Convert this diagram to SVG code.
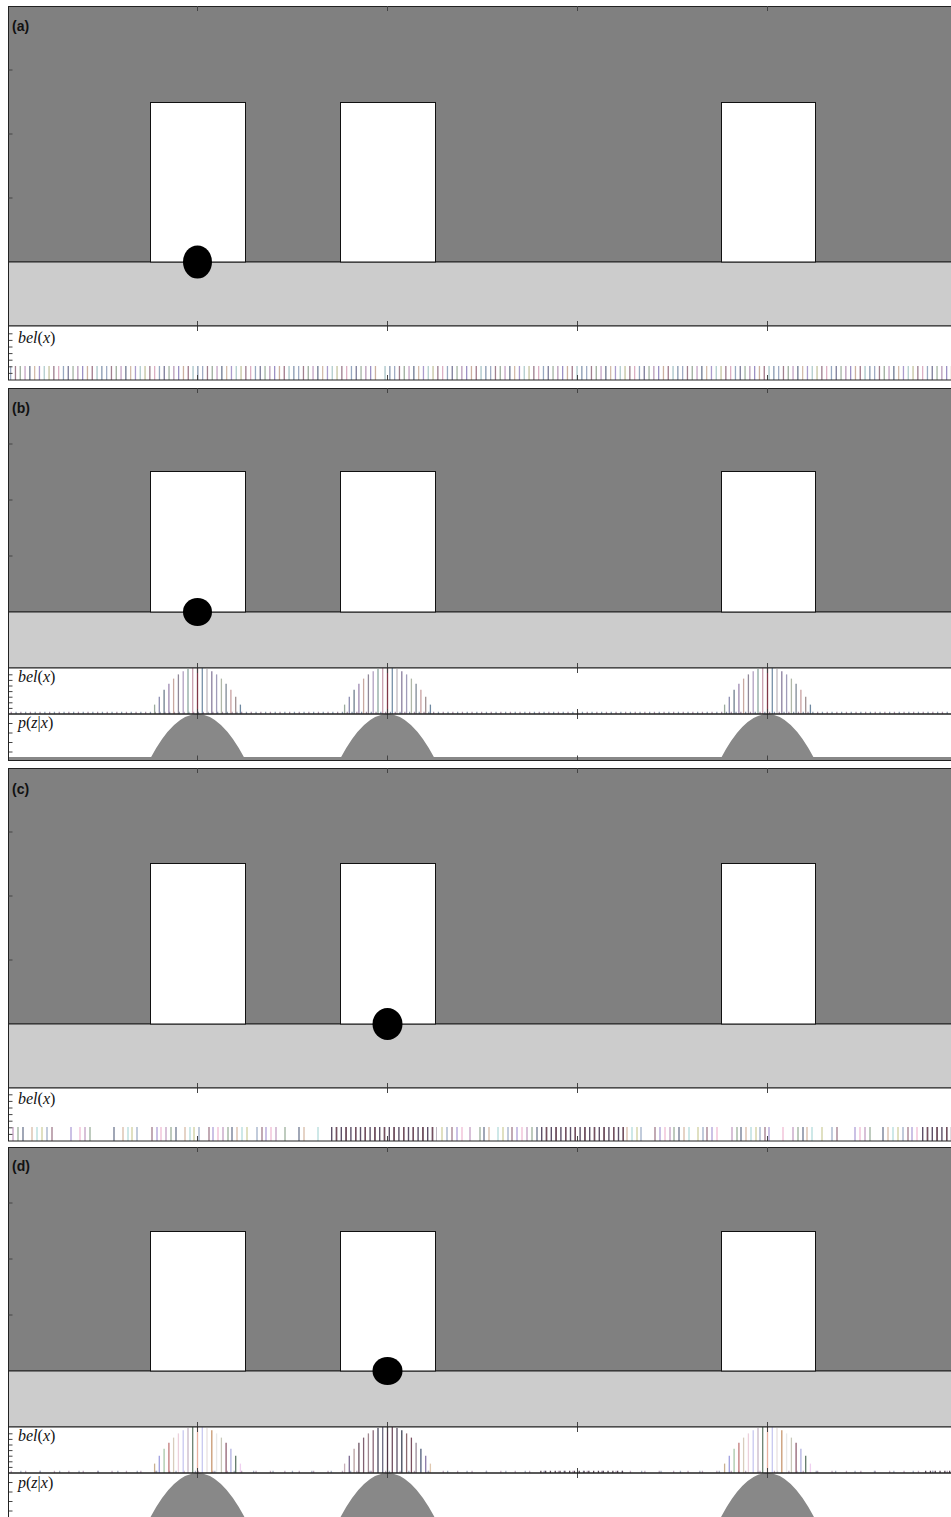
<svg xmlns="http://www.w3.org/2000/svg" width="951" height="1517" viewBox="0 0 951 1517">
<style>
.map{fill:#808080;stroke:#222;stroke-width:1}
.cor{fill:#cccccc;stroke:#222;stroke-width:1}
.door{fill:#fff;stroke:#111;stroke-width:1}
.sfill{fill:#fff}
.sline{fill:none;stroke:#222;stroke-width:1}
.robot{fill:#000}
.lbl{font-family:"Liberation Sans",Arial,sans-serif;font-weight:bold;font-size:14px;fill:#111}
.math{font-family:"Liberation Serif","Times New Roman",serif;font-size:16px;fill:#111}
.it{font-style:italic}
.tk{stroke:#444;stroke-width:1;fill:none}
.pz{fill:#888}
</style>
<defs>
<pattern id="pa" patternUnits="userSpaceOnUse" x="10" y="366" width="96" height="14">
<rect x="0" width="1.3" height="14" fill="#a0acc4"/>
<rect x="4.8" width="1.3" height="14" fill="#a0808e"/>
<rect x="9.6" width="1.3" height="14" fill="#9cac9c"/>
<rect x="14.4" width="1.3" height="14" fill="#c4a4c4"/>
<rect x="19.2" width="1.3" height="14" fill="#6e7890"/>
<rect x="24" width="1.3" height="14" fill="#d4bcac"/>
<rect x="28.8" width="1.3" height="14" fill="#aa9ccc"/>
<rect x="33.6" width="1.3" height="14" fill="#b0cccc"/>
<rect x="38.4" width="1.3" height="14" fill="#c4c4a0"/>
<rect x="43.2" width="1.3" height="14" fill="#9c7c8c"/>
<rect x="48" width="1.3" height="14" fill="#dcb0c4"/>
<rect x="52.8" width="1.3" height="14" fill="#98a8c0"/>
<rect x="57.6" width="1.3" height="14" fill="#7a7a98"/>
<rect x="62.4" width="1.3" height="14" fill="#a4b4a4"/>
<rect x="67.2" width="1.3" height="14" fill="#b89cb8"/>
<rect x="72" width="1.3" height="14" fill="#9c90c4"/>
<rect x="76.8" width="1.3" height="14" fill="#ccb0a0"/>
<rect x="81.6" width="1.3" height="14" fill="#a07888"/>
<rect x="86.4" width="1.3" height="14" fill="#a8c4c8"/>
<rect x="91.2" width="1.3" height="14" fill="#8898b0"/>
</pattern>
<g id="bumpM" stroke-width="1.3" fill="none">
<path stroke="#9aaa9c" d="M-42.9 0v-9.4"/>
<path stroke="#8c8cb0" d="M-38.2 0v-17.3"/>
<path stroke="#6e7e8e" d="M-33.4 0v-24.3"/>
<path stroke="#9c88b0" d="M-28.6 0v-30.3"/>
<path stroke="#c8a8a0" d="M-23.9 0v-35.4"/>
<path stroke="#908898" d="M-19.1 0v-39.6"/>
<path stroke="#b0a0c0" d="M-14.3 0v-42.8"/>
<path stroke="#8ca8a0" d="M-9.5 0v-45.1"/>
<path stroke="#c8a0b0" d="M-4.8 0v-46"/>
<path stroke="#803848" d="M0 0v-46"/>
<path stroke="#7890a8" d="M4.8 0v-46"/>
<path stroke="#c0b8c0" d="M9.5 0v-45.1"/>
<path stroke="#8a7e9e" d="M14.3 0v-42.8"/>
<path stroke="#a09cb8" d="M19.1 0v-39.6"/>
<path stroke="#b0b8a8" d="M23.9 0v-35.4"/>
<path stroke="#7e8894" d="M28.6 0v-30.3"/>
<path stroke="#c8a0a0" d="M33.4 0v-24.3"/>
<path stroke="#a09090" d="M38.2 0v-17.3"/>
<path stroke="#6e88a0" d="M42.9 0v-9.4"/>
</g>
<g id="bumpL" stroke-width="1.3" fill="none">
<path stroke="#c8b090" d="M-42.9 0v-9.4"/>
<path stroke="#a0a0e0" d="M-38.2 0v-17.3"/>
<path stroke="#a8c8a8" d="M-33.4 0v-24.3"/>
<path stroke="#c07878" d="M-28.6 0v-30.3"/>
<path stroke="#d8ccbc" d="M-23.9 0v-35.4"/>
<path stroke="#ecd0dc" d="M-19.1 0v-39.6"/>
<path stroke="#c8c8f0" d="M-14.3 0v-42.8"/>
<path stroke="#c8b8c8" d="M-9.5 0v-45.1"/>
<path stroke="#6a8070" d="M-4.8 0v-46"/>
<path stroke="#e8b0a0" d="M0 0v-46"/>
<path stroke="#c8c8f0" d="M4.8 0v-46"/>
<path stroke="#e8e0e0" d="M9.5 0v-45.1"/>
<path stroke="#c89870" d="M14.3 0v-42.8"/>
<path stroke="#e8e8e8" d="M19.1 0v-39.6"/>
<path stroke="#c8c8b8" d="M23.9 0v-35.4"/>
<path stroke="#906070" d="M28.6 0v-30.3"/>
<path stroke="#b0b0e0" d="M33.4 0v-24.3"/>
<path stroke="#607868" d="M38.2 0v-17.3"/>
<path stroke="#f0d0f0" d="M42.9 0v-9.4"/>
</g>
<g id="bumpD" stroke-width="1.3" fill="none">
<path stroke="#c8b0b8" d="M-42.9 0v-9.4"/>
<path stroke="#7a6890" d="M-38.2 0v-17.3"/>
<path stroke="#b8a0a0" d="M-33.4 0v-24.3"/>
<path stroke="#6a5060" d="M-28.6 0v-30.3"/>
<path stroke="#806070" d="M-23.9 0v-35.4"/>
<path stroke="#a08890" d="M-19.1 0v-39.6"/>
<path stroke="#8a6878" d="M-14.3 0v-42.8"/>
<path stroke="#4a4a5e" d="M-9.5 0v-45.1"/>
<path stroke="#6c6a80" d="M-4.8 0v-46"/>
<path stroke="#503848" d="M0 0v-46"/>
<path stroke="#705060" d="M4.8 0v-46"/>
<path stroke="#5e5468" d="M9.5 0v-45.1"/>
<path stroke="#3c4454" d="M14.3 0v-42.8"/>
<path stroke="#8a6a70" d="M19.1 0v-39.6"/>
<path stroke="#7a5060" d="M23.9 0v-35.4"/>
<path stroke="#9a8a98" d="M28.6 0v-30.3"/>
<path stroke="#4e5a78" d="M33.4 0v-24.3"/>
<path stroke="#8a7aa8" d="M38.2 0v-17.3"/>
<path stroke="#e0c8b0" d="M42.9 0v-9.4"/>
</g>
</defs>

<g id="panel-a">
<rect class="map" x="8.5" y="6.5" width="950" height="255.5"/>
<rect class="cor" x="8.5" y="262" width="950" height="64"/>
<rect class="door" x="150.5" y="102.5" width="95" height="159.5"/>
<rect class="door" x="340.5" y="102.5" width="95" height="159.5"/>
<rect class="door" x="721.5" y="102.5" width="94" height="159.5"/>
<ellipse class="robot" cx="197.5" cy="262" rx="14.5" ry="16.5"/>
<text class="lbl" x="12" y="31">(a)</text>
<rect class="sfill" x="8.5" y="326" width="950" height="54"/>
<rect x="10" y="366" width="941" height="14" fill="url(#pa)"/>
<rect x="378" y="365" width="6" height="15" fill="#fff"/>
<text class="math" x="18" y="343"><tspan class="it">bel</tspan>(<tspan class="it">x</tspan>)</text>
<path class="tk" d="M197.5 6v5M387.5 6v5M577.5 6v5M767.5 6v5M197.5 321v10M387.5 321v10M577.5 321v10M767.5 321v10M197.5 375v5M387.5 375v5M577.5 375v5M767.5 375v5M8.5 70h4M8.5 134h4M8.5 198h4M8.5 333.8h4M8.5 340.4h4M8.5 347h4M8.5 353.6h4M8.5 360.2h4M8.5 366.8h4M8.5 373.4h4"/>
<rect class="sline" x="8.5" y="326" width="950" height="54"/>
</g>

<g id="panel-b">
<rect class="map" x="8.5" y="388.5" width="950" height="223.5"/>
<rect class="cor" x="8.5" y="612" width="950" height="56"/>
<rect class="door" x="150.5" y="471.5" width="95" height="140.5"/>
<rect class="door" x="340.5" y="471.5" width="95" height="140.5"/>
<rect class="door" x="721.5" y="471.5" width="94" height="140.5"/>
<ellipse class="robot" cx="197.5" cy="612" rx="14.5" ry="14"/>
<text class="lbl" x="12" y="413">(b)</text>
<rect class="sfill" x="8.5" y="668" width="950" height="92.5"/>
<path d="M10.6 712.8H951" stroke="#a890a8" stroke-width="2.2" stroke-dasharray="1.3 8.3" fill="none"/>
<path d="M15.4 712.8H951" stroke="#8c9ab0" stroke-width="2.2" stroke-dasharray="1.3 8.3" fill="none"/>
<use href="#bumpM" x="197.5" y="714"/>
<use href="#bumpM" x="387.5" y="714"/>
<use href="#bumpM" x="767.5" y="714"/>
<rect class="pz" x="9" y="757" width="942" height="3.5"/>
<path class="pz" d="M150 759Q197.5 669 245 759ZM340 759Q387.5 669 435 759ZM720.5 759Q767.5 669 814.5 759Z"/>
<text class="math" x="18" y="682"><tspan class="it">bel</tspan>(<tspan class="it">x</tspan>)</text>
<text class="math" x="18" y="728"><tspan class="it">p</tspan>(<tspan class="it">z</tspan>|<tspan class="it">x</tspan>)</text>
<path class="tk" d="M197.5 388v5M387.5 388v5M577.5 388v5M767.5 388v5M197.5 663v10M387.5 663v10M577.5 663v10M767.5 663v10M197.5 709v10M387.5 709v10M577.5 709v10M767.5 709v10M197.5 755.5v5M387.5 755.5v5M577.5 755.5v5M767.5 755.5v5M8.5 444h4M8.5 500h4M8.5 556h4M8.5 674.8h4M8.5 680.4h4M8.5 686h4M8.5 691.6h4M8.5 697.2h4M8.5 702.8h4M8.5 708.4h4M8.5 723.5h4M8.5 733h4M8.5 742.5h4M8.5 752h4"/>
<rect class="sline" x="8.5" y="668" width="950" height="46"/>
<rect class="sline" x="8.5" y="714" width="950" height="46.5"/>
</g>

<g id="panel-c">
<rect class="map" x="8.5" y="768.5" width="950" height="255.5"/>
<rect class="cor" x="8.5" y="1024" width="950" height="64"/>
<rect class="door" x="150.5" y="863.5" width="95" height="160.5"/>
<rect class="door" x="340.5" y="863.5" width="95" height="160.5"/>
<rect class="door" x="721.5" y="863.5" width="94" height="160.5"/>
<ellipse class="robot" cx="387.5" cy="1024" rx="15" ry="16"/>
<text class="lbl" x="12" y="794">(c)</text>
<rect class="sfill" x="8.5" y="1088" width="950" height="53"/>
<g transform="translate(0,1127)" stroke-width="1.3" fill="none">
<path stroke="#c4a0c4" d="M13 0v14M85 0v14M166 0v14M223 0v14M276 0v14M470 0v14M527 0v14M670 0v14M732 0v14M793 0v14M865 0v14"/>
<path stroke="#9cb09c" d="M18 0v14M90 0v14M171 0v14M228 0v14M285 0v14M480 0v14M532 0v14M674 0v14M737 0v14M798 0v14M870 0v14"/>
<path stroke="#6e7890" d="M23 0v14M114 0v14M176 0v14M232 0v14M299 0v14M484 0v14M537 0v14M679 0v14M741 0v14M803 0v14M883 0v14"/>
<path stroke="#d8bca8" d="M32 0v14M123 0v14M185 0v14M237 0v14M304 0v14M489 0v14M627 0v14M684 0v14M746 0v14M807 0v14M888 0v14"/>
<path stroke="#b4dcdc" d="M37 0v14M128 0v14M190 0v14M242 0v14M318 0v14M498 0v14M632 0v14M689 0v14M751 0v14M812 0v14M893 0v14"/>
<path stroke="#d0d0a0" d="M42 0v14M132 0v14M194 0v14M247 0v14M442 0v14M503 0v14M637 0v14M698 0v14M756 0v14M822 0v14M898 0v14"/>
<path stroke="#a0b0c8" d="M47 0v14M137 0v14M199 0v14M257 0v14M447 0v14M508 0v14M641 0v14M703 0v14M760 0v14M832 0v14M903 0v14"/>
<path stroke="#a07c8c" d="M52 0v14M152 0v14M209 0v14M262 0v14M452 0v14M512 0v14M655 0v14M707 0v14M765 0v14M837 0v14M908 0v14"/>
<path stroke="#b0a0d8" d="M71 0v14M157 0v14M213 0v14M266 0v14M457 0v14M517 0v14M660 0v14M712 0v14M769 0v14M855 0v14M912 0v14"/>
<path stroke="#f0bcd4" d="M80 0v14M161 0v14M218 0v14M271 0v14M462 0v14M522 0v14M665 0v14M717 0v14M783 0v14M860 0v14M917 0v14"/>
</g>
<g stroke-width="14" fill="none">
<path d="M331 1134H437M541 1134H624M922 1134H951" stroke="#5e5068" stroke-dasharray="1.4 3.4"/>
<path d="M335.8 1134H437M545.8 1134H624M926.8 1134H951" stroke="#74505e" stroke-dasharray="1.4 8.2"/>
</g>
<text class="math" x="18" y="1104"><tspan class="it">bel</tspan>(<tspan class="it">x</tspan>)</text>
<path class="tk" d="M197.5 768v5M387.5 768v5M577.5 768v5M767.5 768v5M197.5 1083v10M387.5 1083v10M577.5 1083v10M767.5 1083v10M197.5 1136v5M387.5 1136v5M577.5 1136v5M767.5 1136v5M8.5 832h4M8.5 896h4M8.5 960h4M8.5 1094.8h4M8.5 1101.4h4M8.5 1108h4M8.5 1114.6h4M8.5 1121.2h4M8.5 1127.8h4M8.5 1134.4h4"/>
<rect class="sline" x="8.5" y="1088" width="950" height="53"/>
</g>

<g id="panel-d">
<rect class="map" x="8.5" y="1147.5" width="950" height="223.5"/>
<rect class="cor" x="8.5" y="1371" width="950" height="56"/>
<rect class="door" x="150.5" y="1231.5" width="95" height="139.5"/>
<rect class="door" x="340.5" y="1231.5" width="95" height="139.5"/>
<rect class="door" x="721.5" y="1231.5" width="94" height="139.5"/>
<ellipse class="robot" cx="387.5" cy="1371" rx="15" ry="14"/>
<text class="lbl" x="12" y="1171">(d)</text>
<rect class="sfill" x="8.5" y="1427" width="950" height="95"/>
<g stroke-width="2.2" fill="none">
<path d="M10.6 1471.8H951" stroke="#c0aac0" stroke-dasharray="1.3 13.1"/>
<path d="M20.2 1471.8H951" stroke="#a8b0c4" stroke-dasharray="1.3 18.1"/>
<path d="M540.2 1471.8H624M925 1471.8H951" stroke="#5a4858" stroke-dasharray="1.3 3.5"/>
</g>
<use href="#bumpL" x="197.5" y="1473"/>
<use href="#bumpD" x="387.5" y="1473"/>
<use href="#bumpL" x="767.5" y="1473"/>
<path class="pz" d="M150 1518Q197.5 1428 245 1518ZM340 1518Q387.5 1428 435 1518ZM720.5 1518Q767.5 1428 814.5 1518Z"/>
<text class="math" x="18" y="1441"><tspan class="it">bel</tspan>(<tspan class="it">x</tspan>)</text>
<text class="math" x="18" y="1488"><tspan class="it">p</tspan>(<tspan class="it">z</tspan>|<tspan class="it">x</tspan>)</text>
<path class="tk" d="M197.5 1147v5M387.5 1147v5M577.5 1147v5M767.5 1147v5M197.5 1422v10M387.5 1422v10M577.5 1422v10M767.5 1422v10M197.5 1468v10M387.5 1468v10M577.5 1468v10M767.5 1468v10M8.5 1203h4M8.5 1259h4M8.5 1315h4M8.5 1433.8h4M8.5 1439.4h4M8.5 1445h4M8.5 1450.6h4M8.5 1456.2h4M8.5 1461.8h4M8.5 1467.4h4M8.5 1482.5h4M8.5 1492h4M8.5 1501.5h4M8.5 1511h4"/>
<rect class="sline" x="8.5" y="1427" width="950" height="46"/>
<rect class="sline" x="8.5" y="1473" width="950" height="60"/>
</g>
</svg>
